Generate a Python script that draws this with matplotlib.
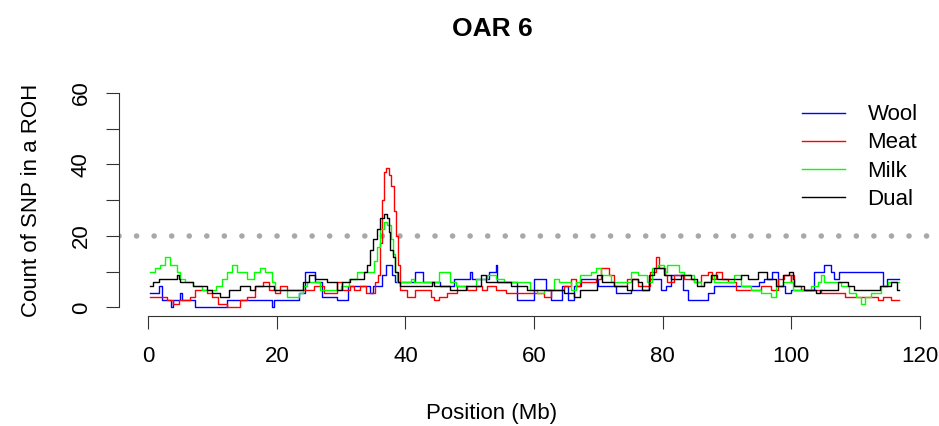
import matplotlib
matplotlib.use("Agg")
import matplotlib.pyplot as plt

plt.rcParams['font.family'] = ['Liberation Sans', 'DejaVu Sans']

# step series: position (Mb) where each level starts, and the level
wool_pos = [0.3, 1.6, 2.2, 3.6, 3.9, 5.0, 5.3, 7.3, 12.2, 19.3, 19.6, 23.4, 24.4, 26.0, 27.0, 29.4,
            31.0, 34.5, 35.0, 36.4, 36.9, 37.9, 38.4, 41.5, 42.8, 45.4, 47.5, 50.0, 50.3, 53.0,
            54.0, 54.3, 57.4, 60.0, 61.8, 62.6, 64.4, 65.2, 66.2, 67.3, 70.0, 72.7, 75.0, 77.9,
            79.7, 80.5, 81.3, 83.1, 84.0, 87.0, 88.0, 95.0, 95.8, 97.0, 98.0, 99.0, 100.0, 103.6,
            105.1, 106.2, 106.7, 107.5, 114.3, 114.9, 116.8]
wool_val = [4, 6, 2, 0, 2, 4, 2, 0, 2, 0, 2, 4, 10, 7, 3, 2,
            6, 4, 6, 9, 12, 9, 7, 10, 7, 6, 8, 10, 8, 10,
            12, 7, 2, 8, 5, 2, 6, 2, 6, 8, 6, 4, 5, 8,
            5, 6, 9, 5, 2, 4, 6, 7, 8, 10, 6, 4, 5, 10,
            12, 10, 8, 10, 6, 8, 8]

meat_pos = [0.3, 2.9, 3.9, 4.7, 6.5, 7.3, 9.1, 9.9, 10.9, 12.2, 14.3, 15.3, 16.6, 17.9, 18.7,
            19.7, 20.5, 21.6, 23.6, 25.7, 27.3, 29.3, 30.1, 31.4, 32.0, 33.0, 33.8, 35.3, 35.8,
            36.1, 36.4, 36.6, 36.9, 37.4, 37.8, 38.2, 38.6, 38.9, 39.2, 40.2, 41.5, 43.9, 44.4,
            45.2, 46.5, 48.0, 49.6, 50.9, 51.9, 52.7, 54.0, 55.6, 57.1, 58.4, 60.0, 61.5, 62.6,
            64.6, 65.7, 66.5, 67.2, 69.6, 70.4, 71.7, 72.4, 74.5, 76.1, 78.1, 78.9, 79.4, 80.4,
            80.7, 81.8, 83.3, 84.9, 86.0, 87.0, 87.6, 88.3, 89.3, 90.1, 91.4, 95.3, 96.8, 97.9,
            98.8, 99.9, 100.0, 100.5, 101.5, 103.1, 104.6, 108.3, 109.3, 111.9, 113.5, 114.2,
            115.5, 116.8]
meat_val = [3, 2, 1, 2, 3, 5, 4, 3, 1, 0, 2, 3, 6, 7, 5,
            4, 6, 5, 5, 6, 4, 7, 5, 6, 5, 6, 4, 7, 9,
            18, 30, 38, 39, 37, 34, 27, 20, 12, 5, 3, 5, 3, 2,
            3, 4, 6, 5, 6, 5, 6, 5, 4, 4, 4, 4, 3, 5,
            6, 8, 6, 7, 8, 11, 9, 6, 8, 6, 10, 14, 11, 9,
            7, 9, 8, 7, 9, 10, 8, 10, 8, 7, 5, 6, 5, 8,
            9, 7, 9, 6, 5, 5, 4, 3, 3, 3, 2, 3,
            2, 2]

milk_pos = [0.3, 1.0, 1.8, 2.6, 3.4, 4.4, 4.9, 5.7, 7.0, 8.3, 10.6, 11.4, 12.2, 13.0, 13.8,
            15.3, 16.4, 17.4, 18.2, 19.2, 19.7, 20.0, 21.6, 23.4, 24.1, 24.7, 26.7, 29.9, 31.2,
            32.5, 34.5, 35.1, 35.6, 36.1, 36.6, 37.1, 37.7, 38.1, 38.4, 38.7, 40.8, 41.3, 45.2,
            47.0, 47.8, 49.8, 50.9, 52.7, 54.0, 55.3, 57.9, 59.4, 60.5, 61.5, 63.1, 63.9, 65.7,
            66.5, 67.2, 68.8, 69.6, 70.4, 71.9, 73.5, 75.0, 76.1, 77.6, 78.4, 79.2, 80.2, 80.7,
            81.8, 82.6, 83.3, 84.9, 85.9, 86.4, 87.5, 88.0, 89.1, 91.1, 92.2, 93.7, 95.3, 96.8,
            97.6, 98.7, 100.2, 101.5, 103.1, 104.1, 104.6, 105.1, 106.2, 107.7, 109.0, 110.0,
            110.8, 111.4, 112.4, 113.9, 115.0, 116.8]
milk_val = [10, 11, 12, 14, 12, 10, 8, 7, 6, 5, 6, 8, 10, 12, 10,
            8, 10, 11, 10, 7, 5, 5, 3, 4, 6, 7, 5, 6, 8,
            10, 10, 13, 17, 22, 24, 23, 19, 15, 10, 7, 8, 7, 10,
            7, 6, 6, 8, 9, 8, 7, 7, 5, 4, 5, 8, 7, 5,
            7, 9, 10, 11, 9, 7, 7, 10, 9, 7, 11, 12, 10, 12,
            12, 10, 9, 7, 6, 7, 9, 7, 7, 9, 6, 5, 4, 3,
            6, 7, 5, 5, 6, 7, 9, 7, 7, 6, 4, 3,
            1, 3, 4, 6, 7, 7]

dual_pos = [0.3, 0.8, 1.6, 4.4, 4.7, 4.9, 7.0, 9.1, 9.9, 11.2, 12.5, 14.3, 15.8, 16.6, 19.5,
            20.3, 21.8, 24.1, 25.0, 26.0, 27.8, 29.3, 30.1, 31.4, 32.5, 33.5, 34.0, 34.5, 35.0,
            35.6, 36.1, 36.6, 37.1, 37.4, 37.6, 38.1, 38.4, 38.8, 39.2, 44.1, 44.4, 47.0, 48.0,
            49.4, 51.7, 52.5, 54.3, 56.4, 58.9, 64.6, 66.2, 67.2, 69.1, 69.8, 70.6, 72.4, 74.5,
            75.3, 76.1, 76.8, 77.9, 78.7, 80.2, 81.3, 82.8, 84.4, 85.4, 86.5, 87.5, 88.5, 92.2,
            93.2, 94.8, 96.3, 97.6, 98.7, 99.7, 100.2, 100.5, 102.0, 103.8, 104.4, 107.2, 108.8,
            109.8, 113.8, 115.5, 116.4, 116.8]
dual_val = [6, 7, 8, 9, 8, 7, 6, 5, 4, 3, 5, 6, 5, 6, 5,
            5, 5, 7, 9, 8, 7, 5, 7, 8, 8, 10, 12, 16, 19,
            22, 25, 26, 25, 21, 16, 14, 10, 7, 6, 7, 6, 5, 5,
            6, 9, 7, 7, 6, 5, 4, 3, 5, 5, 9, 7, 6, 5,
            8, 7, 5, 9, 11, 9, 8, 9, 8, 6, 7, 9, 8, 9,
            8, 10, 8, 6, 9, 10, 8, 6, 5, 4, 5, 7, 6,
            5, 6, 7, 5, 5]

threshold = 20
series = [("Wool", wool_pos, wool_val, "#0000ff"),
          ("Meat", meat_pos, meat_val, "#ff0000"),
          ("Milk", milk_pos, milk_val, "#00ff00"),
          ("Dual", dual_pos, dual_val, "#000000")]

fig = plt.figure(figsize=(9.39, 4.26), dpi=100)
ax = fig.add_axes([0.1267, 0.2582, 0.8632, 0.5439])

for name, pos, val, col in series:
    ax.step(pos, val, where="post", color=col, lw=1.0, label=name)

ax.axhline(threshold, color="#a8a8a8", lw=4.0, linestyle=(0, (0.01, 3.15)),
           dash_capstyle="round", zorder=0)

ax.set_xlim(-4.56, 121.5)
ax.set_ylim(-2.4, 62.4)
for s in ["top", "right"]:
    ax.spines[s].set_visible(False)
ax.spines["left"].set_bounds(0, 60)
ax.spines["bottom"].set_bounds(0, 120)
for s in ["left", "bottom"]:
    ax.spines[s].set_linewidth(0.8)
    ax.spines[s].set_color("#333333")

ax.set_xticks(range(0, 121, 20))
ax.set_yticks(range(0, 61, 10))
ax.set_yticklabels(["0", "", "20", "", "40", "", "60"], rotation=90, va="center")
ax.tick_params(axis="both", length=9.5, width=0.8, color="#333333", labelsize=16)
ax.tick_params(axis="x", pad=12)
ax.tick_params(axis="y", pad=10)

fig.text(0.524, 0.932, "OAR 6", ha="center", va="center", fontsize=19, fontweight="bold")
fig.text(0.524, 0.03, "Position (Mb)", ha="center", va="center", fontsize=16)
fig.text(0.034, 0.53, "Count of SNP in a ROH", ha="center", va="center", fontsize=16,
         rotation=90)

ax.legend(loc="upper left", bbox_to_anchor=(0.854, 0.755), bbox_transform=fig.transFigure,
          frameon=False, fontsize=16, handlelength=1.95, handletextpad=1.0,
          labelspacing=0.32, borderpad=0, borderaxespad=0)

fig.savefig("out.png", dpi=100)
